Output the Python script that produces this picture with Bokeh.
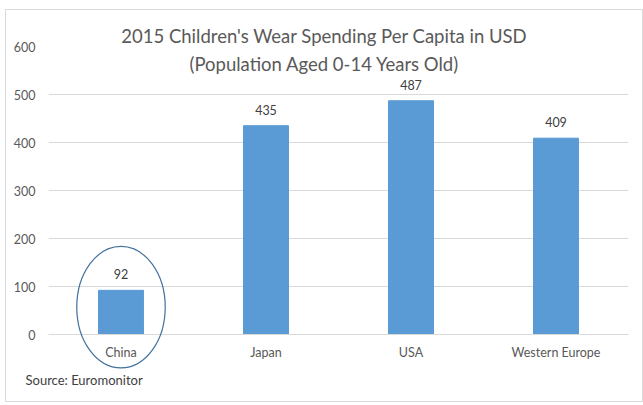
from bokeh.plotting import figure
from bokeh.models import ColumnDataSource, Range1d, FactorRange
from bokeh.core.properties import value
from bokeh.embed import file_html
from bokeh.resources import INLINE

regions = ["China", "Japan", "USA", "Western Europe"]
spending = [92, 435, 487, 409]
highlighted = ["China"]
y_ticks = [0, 100, 200, 300, 400, 500, 600]
title_lines = ["2015 Children's Wear Spending Per Capita in USD", "(Population Aged 0-14 Years Old)"]
source_note = "Source: Euromonitor"

FONT = "Lato"
BAR = "#5b9bd5"
GRID = "#d9d9d9"
TXT = "#595959"

W, H = 643, 405
ML, MR, MT, MB = 48, 15, 46, 71
YMAX = y_ticks[-1]
px_x = (W - ML - MR) / len(regions)
px_y = (H - MT - MB) / YMAX


def data_x(px):
    return (px - ML) / px_x


def data_y(py):
    return (H - MB - py) / px_y


src = ColumnDataSource(dict(x=regions, top=spending, lab=[str(v) for v in spending]))

p = figure(width=W, height=H, x_range=FactorRange(*regions), y_range=Range1d(0, YMAX),
           output_backend="svg", toolbar_location=None,
           min_border_left=ML, min_border_right=MR, min_border_top=MT, min_border_bottom=MB)
p.outline_line_color = None
p.background_fill_color = "white"
p.border_fill_color = "white"

p.vbar(x="x", top="top", width=0.31, color=BAR, source=src)
p.text(x="x", y="top", text="lab", source=src, text_align="center", text_baseline="middle",
       y_offset=-16, text_font=value(FONT), text_font_size="12.5px", text_color="#404040")

hi_y = [57 for h in highlighted]
p.ellipse(x=highlighted, y=hi_y, width=0.61, height=253, fill_color=None,
          line_color="#41719c", line_width=1.2, level="overlay")

p.yaxis.ticker = y_ticks
p.xaxis.axis_line_color = GRID
p.yaxis.axis_line_color = None
for ax in (p.xaxis, p.yaxis):
    ax.major_tick_line_color = None
    ax.minor_tick_line_color = None
    ax.major_label_text_font = FONT
    ax.major_label_text_font_size = "12.5px"
    ax.major_label_text_color = TXT
p.xaxis.major_label_standoff = 4
p.yaxis.major_label_standoff = 7
p.xgrid.grid_line_color = None
p.ygrid.grid_line_color = GRID
p.ygrid.grid_line_width = 1

# outer chart border
p.rect(x=[data_x(323.5)], y=[data_y(205)], width=637, height=392,
       width_units="screen", height_units="screen",
       fill_color=None, line_color=GRID, line_width=1, level="overlay")

# title (two lines) and source note
p.text(x=[len(regions) / 2] * 2, y=[YMAX] * 2, text=title_lines,
       x_offset=-14, y_offset=[-11, 17], text_align="center", text_baseline="middle",
       text_font=value(FONT), text_font_size="18.5px", text_color=TXT, level="overlay")
p.text(x=[0], y=[0], text=[source_note], x_offset=-23, y_offset=45,
       text_align="left", text_baseline="middle",
       text_font=value(FONT), text_font_size="13px", text_color="#404040", level="overlay")

open("out.html", "w").write(file_html(p, INLINE))
